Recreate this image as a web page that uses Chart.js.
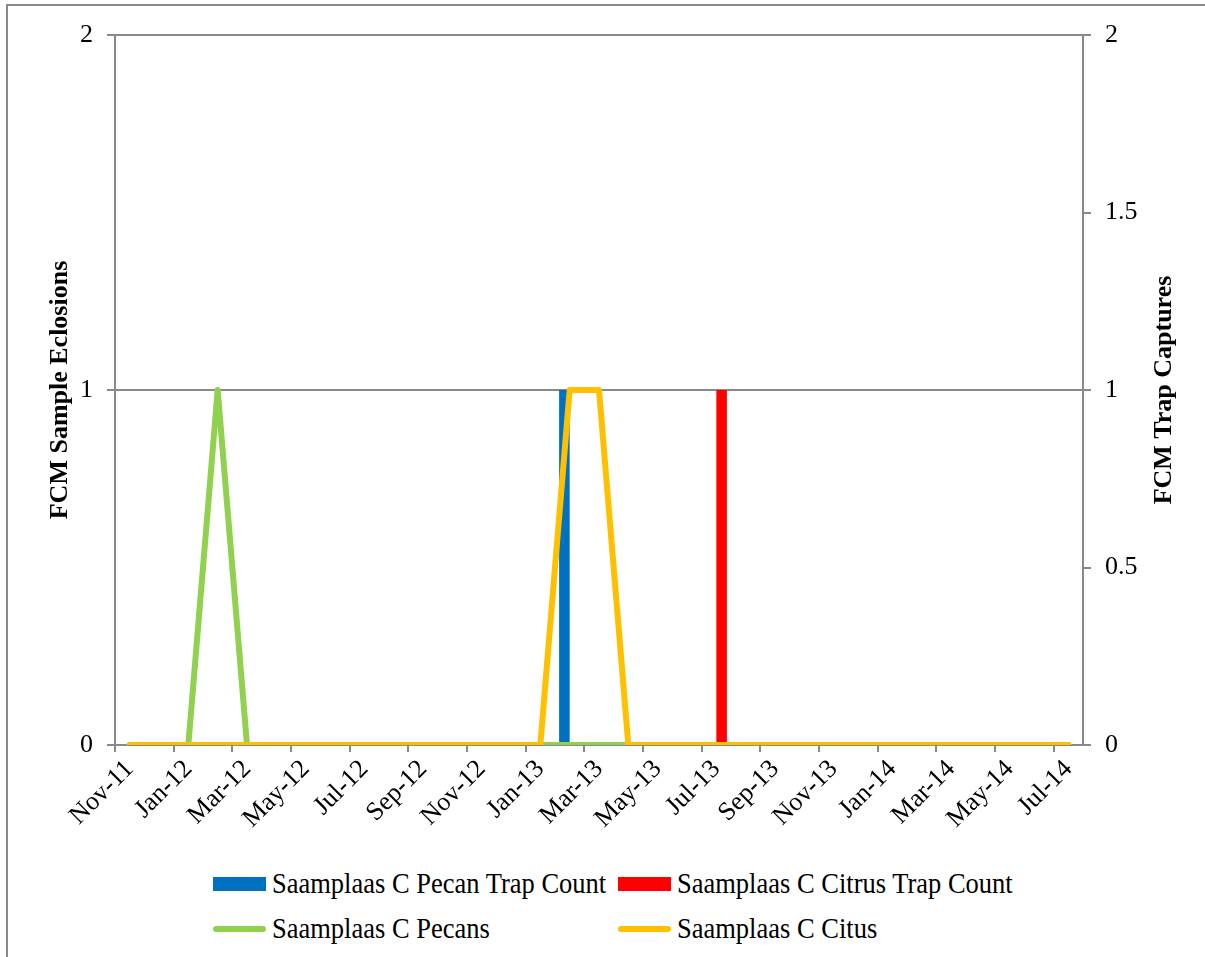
<!DOCTYPE html>
<html>
<head>
<meta charset="utf-8">
<title>Saamplaas C FCM</title>
<script src="https://cdn.jsdelivr.net/npm/chart.js@4.4.1/dist/chart.umd.min.js"></script>
<style>
  html, body { margin: 0; padding: 0; background: #fff; overflow: hidden; }
  body { width: 1205px; height: 957px; position: relative; font-family: "Liberation Serif", "Times New Roman", serif; }
  .frame { position: absolute; left: 6px; top: 4px; width: 1400px; height: 1200px; border: 2px solid #898989; box-sizing: border-box; }
  .chart-box { position: absolute; left: 0; top: 0; width: 1205px; height: 860px; }
  .legend { position: absolute; left: 213px; top: 861px; display: grid; grid-template-columns: 405px auto; }
  .legend-item { height: 45px; display: flex; align-items: center; font-size: 26.5px; color: #000; white-space: nowrap; }
  .legend-item .txt { display: inline-block; transform: scaleY(1.1); transform-origin: 50% 55%; }
  .swatch { width: 53px; margin-right: 6px; }
  .swatch.bar { height: 14px; }
  .swatch.line { height: 6px; border-radius: 3px; }
</style>
</head>
<body>
<div class="frame"></div>
<div class="chart-box"><canvas id="fcmChart" width="1205" height="860"></canvas></div>
<div class="legend" id="legend"></div>

<script>
const months = [
  'Nov-11', 'Dec-11', 'Jan-12', 'Feb-12', 'Mar-12', 'Apr-12', 'May-12', 'Jun-12',
  'Jul-12', 'Aug-12', 'Sep-12', 'Oct-12', 'Nov-12', 'Dec-12', 'Jan-13', 'Feb-13',
  'Mar-13', 'Apr-13', 'May-13', 'Jun-13', 'Jul-13', 'Aug-13', 'Sep-13', 'Oct-13',
  'Nov-13', 'Dec-13', 'Jan-14', 'Feb-14', 'Mar-14', 'Apr-14', 'May-14', 'Jun-14',
  'Jul-14'
];

// trap captures (right axis)
const pecanTrapCount  = [0,0,0,0,0,0,0,0, 0,0,0,0,0,0,0,1, 0,0,0,0,0,0,0,0, 0,0,0,0,0,0,0,0, 0];
const citrusTrapCount = [0,0,0,0,0,0,0,0, 0,0,0,0,0,0,0,0, 0,0,0,0,1,0,0,0, 0,0,0,0,0,0,0,0, 0];

// sample eclosions (left axis)
const pecanEclosions  = [0,0,0,1,0,0,0,0, 0,0,0,0,0,0,0,0, 0,0,0,0,0,0,0,0, 0,0,0,0,0,0,0,0, 0];
const citrusEclosions = [0,0,0,0,0,0,0,0, 0,0,0,0,0,0,0,1, 1,0,0,0,0,0,0,0, 0,0,0,0,0,0,0,0, 0];

const leftTitle = 'FCM Sample Eclosions';
const rightTitle = 'FCM Trap Captures';

const gridGray = '#898989';
const serif = '"Liberation Serif", "Times New Roman", serif';

// Chart.js turns a right-hand title the other way, so draw it by hand
const rightTitlePlugin = {
    id: 'rightTitle',
    afterDraw(chart) {
        const s = chart.scales.y2;
        const c = chart.ctx;
        c.save();
        c.translate(s.right - 41, (s.top + s.bottom) / 2);
        c.rotate(-Math.PI / 2);
        c.font = 'bold 26px ' + serif;
        c.fillStyle = '#000';
        c.textAlign = 'center';
        c.textBaseline = 'middle';
        c.fillText(rightTitle, 0, 0);
        c.restore();
    }
};

const ctx = document.getElementById('fcmChart').getContext('2d');

const fcmChart = new Chart(ctx, {
    type: 'bar',
    data: {
        labels: months,
        datasets: [
            {
                type: 'bar',
                label: 'Saamplaas C Pecan Trap Count',
                data: pecanTrapCount,
                backgroundColor: '#0070C0',
                yAxisID: 'y2',
                order: 3,
                categoryPercentage: 0.72,
                barPercentage: 1,
            },
            {
                type: 'bar',
                label: 'Saamplaas C Citrus Trap Count',
                data: citrusTrapCount,
                backgroundColor: '#FF0000',
                yAxisID: 'y2',
                order: 3,
                categoryPercentage: 0.72,
                barPercentage: 1,
            },
            {
                type: 'line',
                label: 'Saamplaas C Pecans',
                data: pecanEclosions,
                borderColor: '#92D050',
                backgroundColor: '#92D050',
                borderWidth: 6,
                pointRadius: 0,
                borderJoinStyle: 'round',
                borderCapStyle: 'round',
                tension: 0,
                yAxisID: 'y',
                order: 2,
            },
            {
                type: 'line',
                label: 'Saamplaas C Citus',
                data: citrusEclosions,
                borderColor: '#FFC000',
                backgroundColor: '#FFC000',
                borderWidth: 6,
                pointRadius: 0,
                borderJoinStyle: 'round',
                borderCapStyle: 'round',
                tension: 0,
                yAxisID: 'y',
                order: 1,
            },
        ],
    },
    options: {
        responsive: false,
        animation: false,
        layout: {
            padding: { top: 35, left: 0, right: 0, bottom: 0 },
        },
        plugins: {
            legend: { display: false },
            tooltip: { enabled: false },
        },
        scales: {
            x: {
                offset: true,
                grid: {
                    offset: true,
                    drawOnChartArea: false,
                    drawTicks: true,
                    tickLength: 7,
                    lineWidth: 2,
                    color: (c) => (c.index % 2 === 0 ? gridGray : 'rgba(0,0,0,0)'),
                },
                border: { color: gridGray, width: 2 },
                ticks: {
                    autoSkip: false,
                    minRotation: 45,
                    maxRotation: 45,
                    padding: 2,
                    color: '#000',
                    font: { family: serif, size: 26 },
                    callback: function (value, index) {
                        return index % 2 === 0 ? this.getLabelForValue(value) : '';
                    },
                },
                afterFit: (scale) => { scale.height = 115; },
            },
            y: {
                position: 'left',
                min: 0,
                max: 2,
                ticks: {
                    stepSize: 1,
                    padding: 14,
                    color: '#000',
                    font: { family: serif, size: 26 },
                },
                grid: { color: gridGray, lineWidth: 2, tickLength: 8 },
                border: { color: gridGray, width: 2 },
                title: {
                    display: true,
                    text: leftTitle,
                    color: '#000',
                    font: { family: serif, size: 26, weight: 'bold' },
                    padding: { top: 45, bottom: 0 },
                },
                afterFit: (scale) => { scale.width = 115; },
            },
            y2: {
                position: 'right',
                min: 0,
                max: 2,
                ticks: {
                    stepSize: 0.5,
                    padding: 14,
                    color: '#000',
                    font: { family: serif, size: 26 },
                    callback: (value) => String(value),
                },
                grid: { drawOnChartArea: false, color: gridGray, lineWidth: 2, tickLength: 8 },
                border: { color: gridGray, width: 2 },
                afterFit: (scale) => { scale.width = 122; },
            },
        },
    },
    plugins: [rightTitlePlugin],
});

// legend in two fixed columns, like the original
const legendBox = document.getElementById('legend');
fcmChart.data.datasets.forEach((ds) => {
    const item = document.createElement('div');
    item.className = 'legend-item';
    const sw = document.createElement('span');
    sw.className = 'swatch ' + (ds.type === 'line' ? 'line' : 'bar');
    sw.style.background = ds.type === 'line' ? ds.borderColor : ds.backgroundColor;
    const txt = document.createElement('span');
    txt.className = 'txt';
    txt.textContent = ds.label;
    item.appendChild(sw);
    item.appendChild(txt);
    legendBox.appendChild(item);
});
</script>
</body>
</html>
